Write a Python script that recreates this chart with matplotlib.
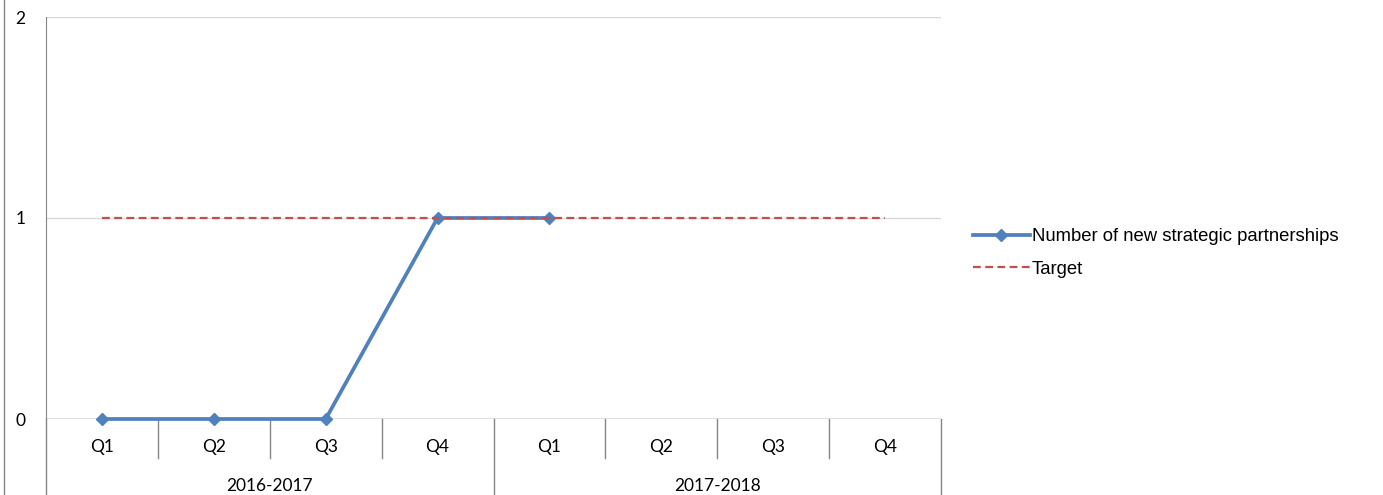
import matplotlib.pyplot as plt
import matplotlib.transforms as mtransforms
from matplotlib.lines import Line2D
import numpy as np

quarters = ["Q1", "Q2", "Q3", "Q4", "Q1", "Q2", "Q3", "Q4"]
years = ["2016-2017", "2017-2018"]
partnerships = [0, 0, 0, 1, 1, np.nan, np.nan, np.nan]
target = [1, 1, 1, 1, 1, 1, 1, 1]

blue = "#4F81BD"
red = "#C0504D"
grid_col = "#D9D9D9"
axis_col = "#868686"
tick_font = dict(fontfamily="Lato", fontsize=12.5)

fig = plt.figure(figsize=(13.83, 4.95), dpi=100)
ax = fig.add_axes([46/1383, 1 - 419/495, (941 - 46)/1383, 402/495])

x = np.arange(len(quarters))
ax.plot(x, partnerships, color=blue, lw=2.7, marker="D", ms=6.5,
        label="Number of new strategic partnerships", zorder=3, clip_on=False)
ax.plot(x, target, color=red, lw=1.6, ls=(0, (3.5, 2)), label="Target", zorder=4)

ax.set_xlim(-0.5, len(quarters) - 0.5)
ax.set_ylim(0, 2)
ax.set_yticks([0, 1, 2])
ax.set_yticklabels(["0", "1", "2"], **tick_font)
ax.tick_params(axis="y", length=0, pad=15)
ax.set_xticks([])
ax.yaxis.grid(True, color=grid_col, lw=1)
ax.set_axisbelow(True)
for s in ["top", "right", "bottom"]:
    ax.spines[s].set_visible(False)
ax.spines["left"].set_color(axis_col)
ax.axhline(0, color=axis_col, lw=1, zorder=2)

# two-level category axis: quarter row, then fiscal year row
trans = mtransforms.blended_transform_factory(ax.transData, ax.transAxes)
inner = -39/402
outer = -76/402
for i in range(len(quarters) + 1):
    edge = i - 0.5
    ylow = outer if i % 4 == 0 else inner
    ax.plot([edge, edge], [0, ylow], color=axis_col, lw=1, transform=trans, clip_on=False)
for i, q in enumerate(quarters):
    ax.text(i, -28/402, q, transform=trans, ha="center", va="center", **tick_font)
for j, yr in enumerate(years):
    ax.text(j*4 + 1.5, -67/402, yr, transform=trans, ha="center", va="center", **tick_font)

fig.add_artist(Line2D([4/1383, 4/1383], [0, 1], color=axis_col, lw=1))

ax.legend(loc="center left", bbox_to_anchor=(956/1383, 1 - 253/495),
          bbox_transform=fig.transFigure, frameon=False, handlelength=3.1,
          handletextpad=0.1, labelspacing=0.85,
          prop={"family": "Liberation Sans", "size": 13.3})

fig.savefig("out.png", dpi=100)
